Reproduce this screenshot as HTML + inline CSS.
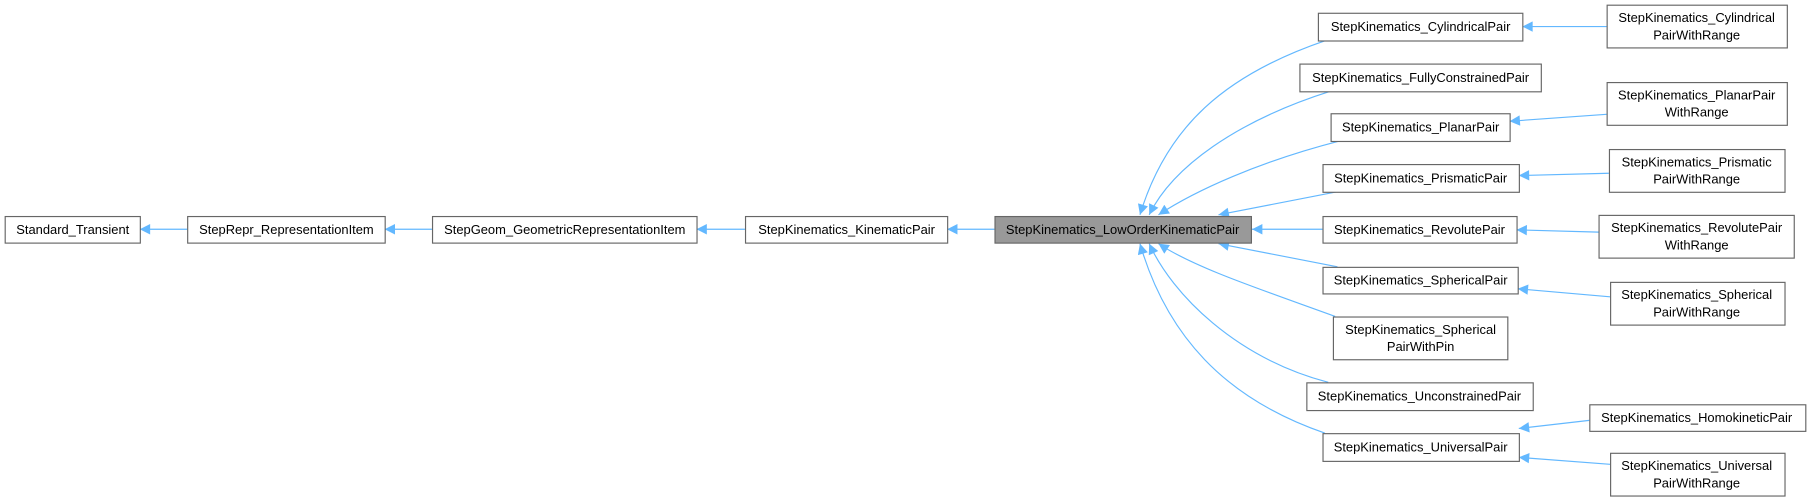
<!DOCTYPE html>
<html><head><meta charset="utf-8"><style>
html,body{margin:0;padding:0;background:#fff;}
svg{display:block;}
text{font-family:"Liberation Sans",Arial,sans-serif;font-size:11.2px;fill:#000;text-anchor:middle;}
.b{fill:#fff;stroke:#666;stroke-width:1;}
.e{fill:none;stroke:#63b8ff;stroke-width:1;}
</style></head><body>
<svg width="1811" height="504" viewBox="0 0 1568 436.4" preserveAspectRatio="none" xmlns="http://www.w3.org/2000/svg">
<defs><marker id="a" viewBox="0 0 10 10" refX="10" refY="5" markerWidth="11" markerHeight="9" markerUnits="userSpaceOnUse" orient="auto"><path d="M0,0L10,5L0,10z" fill="#63b8ff"/></marker></defs>
<path class="e" marker-end="url(#a)" d="M162,198.5H121"/>
<path class="e" marker-end="url(#a)" d="M374,198.5H333"/>
<path class="e" marker-end="url(#a)" d="M645,198.5H603"/>
<path class="e" marker-end="url(#a)" d="M861,198.5H820"/>
<path class="e" marker-end="url(#a)" d="M1145,198.5H1084"/>
<path class="e" marker-end="url(#a)" d="M1148,35C1060,65 1010,110 987,186"/>
<path class="e" marker-end="url(#a)" d="M1152,79C1070,105 1015,145 995,186"/>
<path class="e" marker-end="url(#a)" d="M1160,122C1090,140 1035,165 1003,186"/>
<path class="e" marker-end="url(#a)" d="M1158,166L1055,186"/>
<path class="e" marker-end="url(#a)" d="M1158,231L1055,211"/>
<path class="e" marker-end="url(#a)" d="M1156,274C1090,250 1035,232 1003,211"/>
<path class="e" marker-end="url(#a)" d="M1150,331C1070,310 1015,255 995,211"/>
<path class="e" marker-end="url(#a)" d="M1147,375C1060,345 1010,290 987,211"/>
<path class="e" marker-end="url(#a)" d="M1391,23H1318"/>
<path class="e" marker-end="url(#a)" d="M1391,99L1307,105"/>
<path class="e" marker-end="url(#a)" d="M1393,150L1315,152"/>
<path class="e" marker-end="url(#a)" d="M1384,201L1313,199"/>
<path class="e" marker-end="url(#a)" d="M1394,257L1314,250"/>
<path class="e" marker-end="url(#a)" d="M1376,364L1315,371"/>
<path class="e" marker-end="url(#a)" d="M1394,402L1315,396"/>
<rect class="b" x="4.5" y="187.5" width="117" height="23"/><text x="63" y="202.5">Standard_Transient</text>
<rect class="b" x="162.5" y="187.5" width="171" height="23"/><text x="248" y="202.5">StepRepr_RepresentationItem</text>
<rect class="b" x="374.5" y="187.5" width="229" height="23"/><text x="489" y="202.5">StepGeom_GeometricRepresentationItem</text>
<rect class="b" x="645.5" y="187.5" width="175" height="23"/><text x="733" y="202.5">StepKinematics_KinematicPair</text>
<rect x="861.5" y="187.5" width="222" height="23" fill="#999" stroke="#666"/><text x="972" y="202.5">StepKinematics_LowOrderKinematicPair</text>
<rect class="b" x="1141.5" y="11.5" width="177" height="24"/><text x="1230" y="27">StepKinematics_CylindricalPair</text>
<rect class="b" x="1125.5" y="55.5" width="209" height="24"/><text x="1230" y="71">StepKinematics_FullyConstrainedPair</text>
<rect class="b" x="1152.5" y="98.5" width="155" height="24"/><text x="1230" y="114">StepKinematics_PlanarPair</text>
<rect class="b" x="1145.5" y="142.5" width="170" height="24"/><text x="1230" y="158">StepKinematics_PrismaticPair</text>
<rect class="b" x="1145.5" y="187.5" width="168" height="23"/><text x="1229" y="202.5">StepKinematics_RevolutePair</text>
<rect class="b" x="1145.5" y="231.5" width="169" height="23"/><text x="1230" y="246.5">StepKinematics_SphericalPair</text>
<rect class="b" x="1154.5" y="274.5" width="151" height="37"/><text x="1230" y="289">StepKinematics_Spherical</text><text x="1230" y="304">PairWithPin</text>
<rect class="b" x="1131.5" y="331.5" width="196" height="24"/><text x="1229" y="347">StepKinematics_UnconstrainedPair</text>
<rect class="b" x="1145.5" y="375.5" width="170" height="24"/><text x="1230" y="391">StepKinematics_UniversalPair</text>
<rect class="b" x="1391.5" y="4.5" width="156" height="37"/><text x="1469" y="19">StepKinematics_Cylindrical</text><text x="1469" y="34">PairWithRange</text>
<rect class="b" x="1391.5" y="71.5" width="156" height="37"/><text x="1469" y="86">StepKinematics_PlanarPair</text><text x="1469" y="101">WithRange</text>
<rect class="b" x="1393.5" y="129.5" width="152" height="37"/><text x="1469" y="144">StepKinematics_Prismatic</text><text x="1469" y="159">PairWithRange</text>
<rect class="b" x="1384.5" y="186.5" width="169" height="37"/><text x="1469" y="201">StepKinematics_RevolutePair</text><text x="1469" y="216">WithRange</text>
<rect class="b" x="1394.5" y="244.5" width="151" height="37"/><text x="1469" y="259">StepKinematics_Spherical</text><text x="1469" y="274">PairWithRange</text>
<rect class="b" x="1376.5" y="350.5" width="187" height="23"/><text x="1469" y="365.5">StepKinematics_HomokineticPair</text>
<rect class="b" x="1394.5" y="392.5" width="151" height="37"/><text x="1469" y="407">StepKinematics_Universal</text><text x="1469" y="422">PairWithRange</text>
</svg>
</body></html>
